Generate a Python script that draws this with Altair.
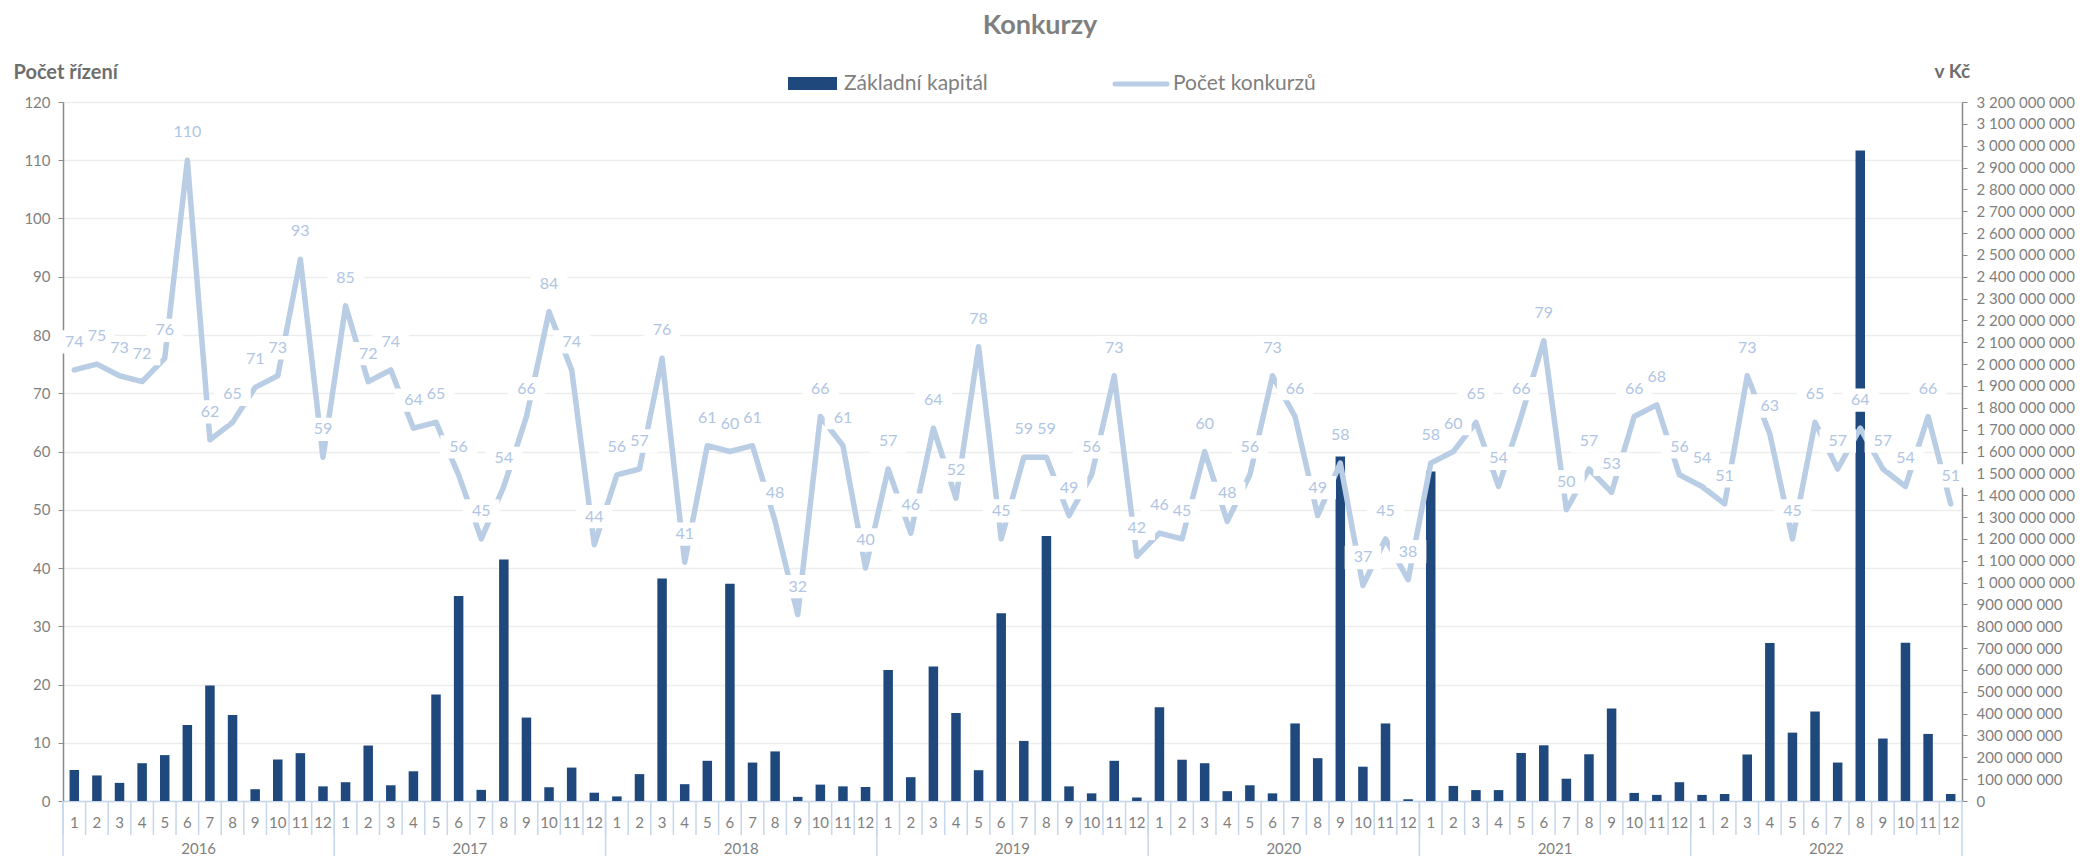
import altair as alt
import pandas as pd

# ---------------- data ----------------
years = [2016, 2017, 2018, 2019, 2020, 2021, 2022]
months = [1, 2, 3, 4, 5, 6, 7, 8, 9, 10, 11, 12]

# Počet konkurzů (left axis)
pocet_2016 = [74, 75, 73, 72, 76, 110, 62, 65, 71, 73, 93, 59]
pocet_2017 = [85, 72, 74, 64, 65, 56, 45, 54, 66, 84, 74, 44]
pocet_2018 = [56, 57, 76, 41, 61, 60, 61, 48, 32, 66, 61, 40]
pocet_2019 = [57, 46, 64, 52, 78, 45, 59, 59, 49, 56, 73, 42]
pocet_2020 = [46, 45, 60, 48, 56, 73, 66, 49, 58, 37, 45, 38]
pocet_2021 = [58, 60, 65, 54, 66, 79, 50, 57, 53, 66, 68, 56]
pocet_2022 = [54, 51, 73, 63, 45, 65, 57, 64, 57, 54, 66, 51]

# Základní kapitál (right axis), in millions of Kč
kap_2016 = [142, 117, 83, 173, 210, 348, 529, 394, 54, 190, 219, 67]
kap_2017 = [86, 254, 72, 136, 487, 938, 51, 1106, 382, 63, 153, 38]
kap_2018 = [21, 123, 1019, 77, 184, 995, 176, 227, 19, 75, 67, 64]
kap_2019 = [600, 109, 616, 403, 141, 859, 275, 1213, 67, 35, 184, 16]
kap_2020 = [429, 189, 173, 45, 72, 35, 355, 196, 1577, 157, 355, 8]
kap_2021 = [1508, 69, 50, 50, 220, 255, 102, 214, 424, 37, 28, 86]
kap_2022 = [28, 32, 213, 723, 313, 410, 176, 2978, 286, 725, 307, 32]

pocet = pocet_2016 + pocet_2017 + pocet_2018 + pocet_2019 + pocet_2020 + pocet_2021 + pocet_2022
kap_mil = kap_2016 + kap_2017 + kap_2018 + kap_2019 + kap_2020 + kap_2021 + kap_2022

n = len(pocet)
df = pd.DataFrame({
    "idx": list(range(n)),
    "rok": [y for y in years for _ in months],
    "mesic": [m for _ in years for m in months],
    "pocet": pocet,
    "kapital": [v * 1_000_000 for v in kap_mil],
})

year_df = pd.DataFrame({"rok": years, "idx": [i * 12 for i in range(len(years))]})
year_mid = pd.DataFrame({"rok": years, "idx": [i * 12 + 6 for i in range(len(years))]})

# ---------------- style ----------------
FONT = "Lato"
W, H = 1899, 699
BAR = "#1F497D"
LINE = "#B9CDE5"
LABEL = "#B0C5E4"
SEP = "#C6D7EC"
GRAY = "#7F7F7F"

xdomain = list(range(n))
xscale = alt.Scale(domain=xdomain, paddingInner=0, paddingOuter=0)

xaxis = alt.Axis(
    title=None, labelExpr="(datum.value % 12) + 1", labelAngle=0, ticks=False,
    labelOverlap=False, labelFontSize=15, labelColor=GRAY, labelBaseline="middle",
    labelPadding=21, domainColor=SEP, domainWidth=1.5, grid=False, labelFont=FONT,
)

yleft = alt.Scale(domain=[0, 120], nice=False, zero=True)
yleft_axis = alt.Axis(
    values=list(range(0, 121, 10)),
    title="Počet řízení", titleAngle=0, titleAlign="left", titleBaseline="middle",
    titleX=-50, titleY=-30, titleFontSize=20, titleFontWeight="bold",
    titleColor="#6E6E6E", titleFont=FONT,
    labelFontSize=15, labelColor=GRAY, labelFont=FONT, labelPadding=8,
    tickSize=5, tickColor="#8A8A8A", domainColor="#8A8A8A", domainWidth=1.5,
    grid=True, gridColor="#EDEDED", gridWidth=1.5,
)


def X(**kw):
    return alt.X("idx:O", scale=xscale, axis=xaxis, **kw)


def YL():
    return alt.Y("pocet:Q", scale=yleft, axis=yleft_axis)


bars = alt.Chart(df).mark_bar(width=9.5, color=BAR).encode(
    x=X(),
    y=alt.Y(
        "kapital:Q",
        scale=alt.Scale(domain=[0, 3_200_000_000], nice=False, zero=True),
        axis=alt.Axis(
            orient="right", values=[i * 100_000_000 for i in range(33)],
            labelExpr="replace(format(datum.value, ','), /,/g, ' ')",
            title="v Kč", titleAngle=0, titleAlign="left", titleBaseline="middle",
            titleX=-28, titleY=-31, titleFontSize=19, titleFontWeight="bold",
            titleColor="#6E6E6E", titleFont=FONT,
            labelFontSize=15, labelColor=GRAY, labelFont=FONT, labelPadding=9,
            tickSize=5, tickColor="#8A8A8A", domainColor="#8A8A8A", domainWidth=1.5,
            grid=False,
        ),
    ),
)

line = alt.Chart(df).mark_line(
    color=LINE, strokeWidth=5.5, strokeJoin="round", strokeCap="round"
).encode(x=X(), y=YL())

BOX = "M-1,-0.64L1,-0.64L1,0.64L-1,0.64Z"
boxes = alt.Chart(df).mark_point(
    shape=BOX, filled=True, color="white", opacity=1, strokeWidth=0, yOffset=-28
).encode(
    x=X(), y=YL(),
    size=alt.condition("datum.pocet >= 100", alt.value(2100), alt.value(1330)),
)

labels = alt.Chart(df).mark_text(
    color=LABEL, fontSize=16, font=FONT, baseline="middle", align="center", yOffset=-28
).encode(x=X(), y=YL(), text="pocet:Q")

left = alt.layer(line, boxes, labels)

# category separators on the x axis
month_sep = alt.Chart(df).mark_rule(color=SEP, strokeWidth=1.5).encode(
    x=X(bandPosition=0), y=alt.value(H), y2=alt.value(H + 34),
)
year_sep = alt.Chart(year_df).mark_rule(color=SEP, strokeWidth=1.5).encode(
    x=X(bandPosition=0), y=alt.value(H), y2=alt.value(H + 60),
)
end_sep = alt.Chart(df[df["idx"] == n - 1]).mark_rule(color=SEP, strokeWidth=1.5).encode(
    x=X(bandPosition=1), y=alt.value(H), y2=alt.value(H + 60),
)
year_lbl = alt.Chart(year_mid).mark_text(
    fontSize=15, color=GRAY, font=FONT, baseline="middle"
).encode(x=X(bandPosition=0), y=alt.value(H + 48), text="rok:N")

# title and legend
title = alt.Chart(pd.DataFrame({"t": ["Konkurzy"]})).mark_text(
    fontSize=27, fontWeight="bold", color=GRAY, font=FONT, baseline="middle"
).encode(x=alt.value(977), y=alt.value(-76), text="t:N")

leg_df = pd.DataFrame({"t": ["Základní kapitál", "Počet konkurzů"]})
leg_rect = alt.Chart(leg_df.iloc[[0]]).mark_rect(color=BAR).encode(
    x=alt.value(725), x2=alt.value(774), y=alt.value(-25), y2=alt.value(-12)
)
leg_line = alt.Chart(leg_df.iloc[[1]]).mark_rule(color=LINE, strokeWidth=5, strokeCap="round").encode(
    x=alt.value(1052), x2=alt.value(1104), y=alt.value(-18)
)
leg_t1 = alt.Chart(leg_df.iloc[[0]]).mark_text(
    fontSize=21, color=GRAY, font=FONT, align="left", baseline="middle"
).encode(x=alt.value(781), y=alt.value(-18), text="t:N")
leg_t2 = alt.Chart(leg_df.iloc[[1]]).mark_text(
    fontSize=21, color=GRAY, font=FONT, align="left", baseline="middle"
).encode(x=alt.value(1110), y=alt.value(-18), text="t:N")

chart = alt.layer(
    bars, left, month_sep, year_sep, end_sep, year_lbl,
    title, leg_rect, leg_line, leg_t1, leg_t2,
).resolve_scale(y="independent").properties(
    width=W, height=H,
    padding={"left": 55, "top": 94, "right": 113, "bottom": 55},
    autosize=alt.AutoSizeParams(type="none"),
    background="white",
).configure_view(stroke=None).configure(font=FONT)

chart.save("out.html", embed_options={"renderer": "svg", "actions": False})
